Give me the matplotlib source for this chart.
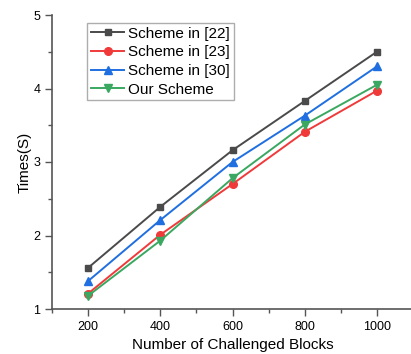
import matplotlib
matplotlib.use("Agg")
import matplotlib.pyplot as plt
from matplotlib.ticker import MultipleLocator

plt.rcParams['font.family'] = ['Liberation Sans', 'DejaVu Sans']

blocks = [200, 400, 600, 800, 1000]
scheme22 = [1.56, 2.39, 3.16, 3.83, 4.50]
scheme23 = [1.21, 2.01, 2.70, 3.41, 3.97]
scheme30 = [1.38, 2.21, 3.00, 3.63, 4.30]
ours = [1.18, 1.93, 2.78, 3.51, 4.05]
labels = ['Scheme in [22]', 'Scheme in [23]', 'Scheme in [30]', 'Our Scheme']

fig = plt.figure(figsize=(4.11, 3.54), dpi=100)
ax = fig.add_axes([52/411, 1-309/354, (413-52)/411, (309-15)/354])

ax.plot(blocks, scheme22, color='#4a4a4a', marker='s', ms=5, lw=1.4, label=labels[0])
ax.plot(blocks, scheme23, color='#f03a3a', marker='o', ms=5.5, lw=1.4, label=labels[1])
ax.plot(blocks, scheme30, color='#1f6fe0', marker='^', ms=6, lw=1.4, label=labels[2])
ax.plot(blocks, ours, color='#3aa860', marker='v', ms=6, lw=1.4, label=labels[3])

ax.set_xlim(100, 1100)
ax.set_ylim(1, 5)
ax.xaxis.set_major_locator(MultipleLocator(200))
ax.xaxis.set_minor_locator(MultipleLocator(100))
ax.yaxis.set_major_locator(MultipleLocator(1))
ax.yaxis.set_minor_locator(MultipleLocator(0.5))
for s in ['top', 'right']:
    ax.spines[s].set_visible(False)
for s in ['left', 'bottom']:
    ax.spines[s].set_color('#555555')
    ax.spines[s].set_linewidth(1.2)
ax.tick_params(which='major', direction='out', length=5, width=1, colors='#555555', labelcolor='black', labelsize=9)
ax.tick_params(which='minor', direction='out', length=3, width=1, colors='#555555')
ax.set_xlabel('Number of Challenged Blocks', fontsize=11)
ax.set_ylabel('Times(S)', fontsize=11, labelpad=1)

leg = ax.legend(loc='upper left', bbox_to_anchor=(0.097, 0.973), fontsize=11, frameon=True,
                fancybox=False, edgecolor='#999999', handlelength=2.2, handletextpad=0.25,
                borderpad=0.25, borderaxespad=0, labelspacing=0.3)
leg._legend_box.sep = 0
leg.get_frame().set_linewidth(1)
for t in leg.get_texts():
    pass

fig.savefig('out.png', dpi=100)
